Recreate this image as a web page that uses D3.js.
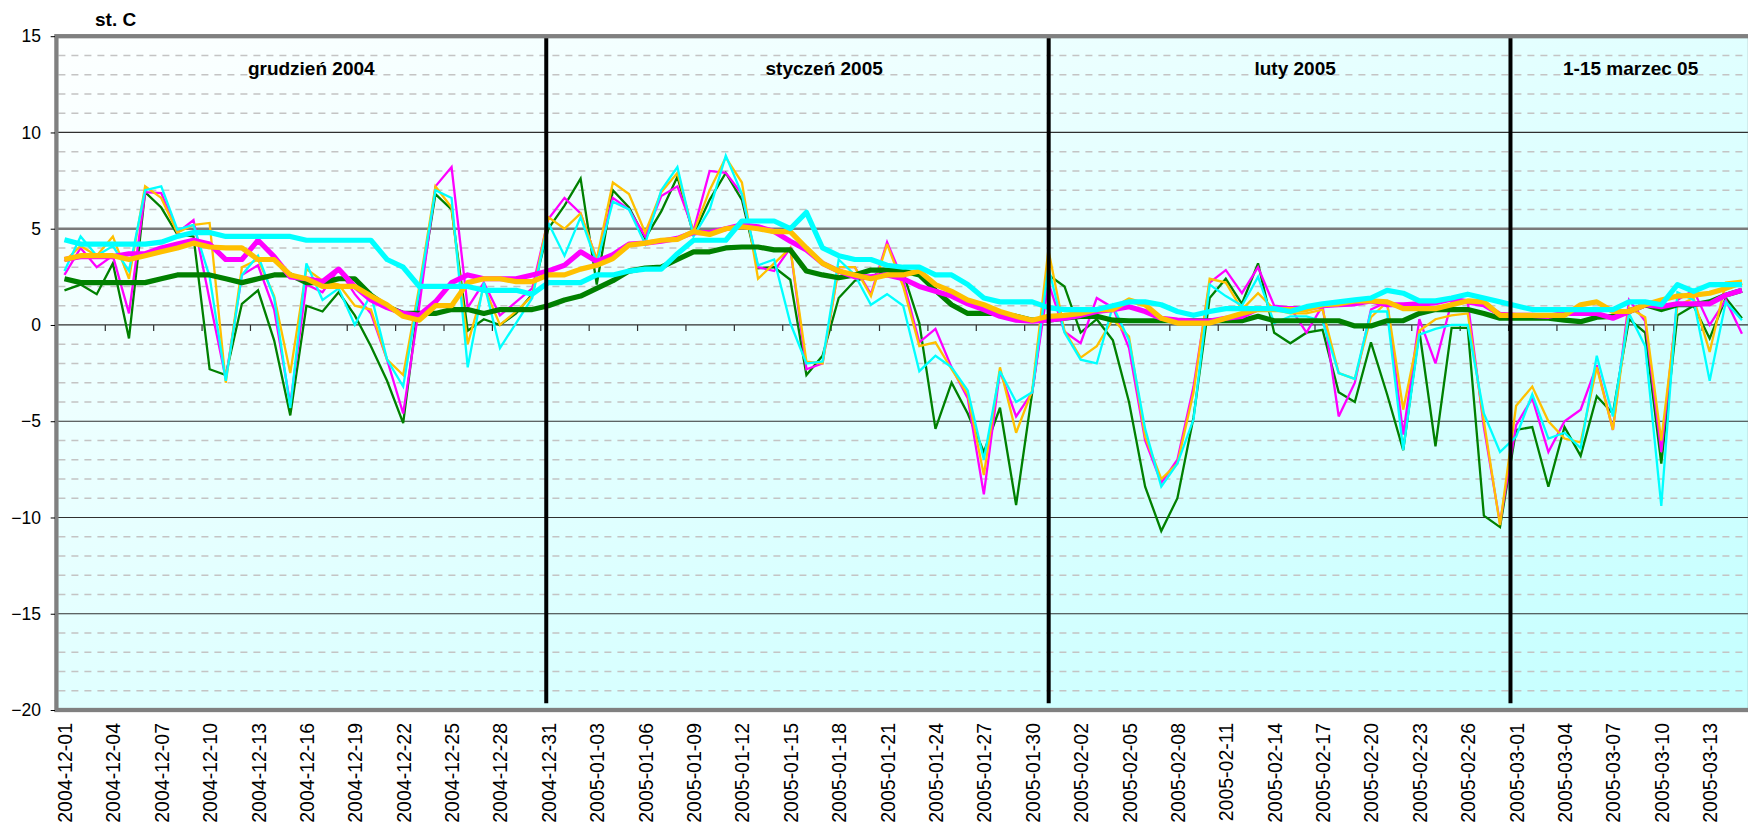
<!DOCTYPE html>
<html><head><meta charset="utf-8">
<script src="https://cdn.jsdelivr.net/npm/d3@7"></script>
<style>
body{margin:0;background:#fff;}
svg{display:block;font-family:"Liberation Sans",Arial,sans-serif;}
</style>
</head><body>
<svg id="chart" width="1748" height="829"></svg>
<script>
// ---------- DATA ----------
const fmt = d3.timeFormat("%Y-%m-%d");
const categories = d3.timeDay.range(new Date(2004,11,1), new Date(2005,2,16)).map(fmt); // 105 days

const dailyGreen = [1.8,2.1,1.6,3.2,-0.7,6.9,6.1,4.7,4.6,-2.3,-2.6,1.1,1.8,-0.8,-4.7,1.0,0.7,1.7,0.5,-1.1,-2.9,-5.1,1.5,6.8,6.0,-0.3,0.3,0.0,0.6,1.6,5.0,6.2,7.6,
 2.1,7.0,6.1,4.5,5.9,7.7,4.7,6.5,7.9,6.5,2.95,3.0,2.35,-2.6,-1.6,1.4,2.3,2.5,2.9,2.7,0.1,-5.4,-3.0,-4.6,-6.6,-4.3,-9.35,-3.5,2.6,
 2.0,-0.4,0.3,-0.8,-4.0,-8.4,-10.7,-9.0,-4.8,1.4,2.4,1.1,3.2,-0.4,-0.95,-0.4,-0.25,-3.5,-4.0,-0.9,-3.6,-6.5,-0.3,-6.3,-0.15,-0.15,-9.9,-10.5,
 -5.45,-5.3,-8.4,-5.3,-6.8,-3.7,-4.6,0.3,-0.4,-7.2,0.5,1.0,-0.7,1.4,0.35];
const dailyMagenta = [2.6,4.0,3.0,3.6,0.6,6.9,6.85,4.8,5.45,1.3,-2.8,2.6,3.1,0.8,-4.1,2.1,1.7,2.9,1.6,0.6,-1.8,-4.6,1.0,7.2,8.2,0.9,2.2,0.5,1.2,1.9,5.5,6.6,5.8,
 3.4,6.6,6.0,4.6,6.7,7.2,4.9,8.0,7.9,6.8,3.0,2.8,4.0,-2.3,-2.0,3.0,3.0,1.6,4.3,2.3,-0.9,-0.2,-2.2,-3.8,-8.8,-2.4,-4.75,-3.5,2.2,
 -0.35,-0.95,1.4,0.9,-1.2,-6.0,-8.2,-7.0,-3.2,2.2,2.85,1.65,3.0,1.0,0.9,-0.4,1.0,-4.75,-3.0,0.8,1.2,-5.7,0.3,-2.0,1.2,1.2,-5.3,-10.3,
 -5.2,-3.8,-6.6,-5.0,-4.4,-2.1,-5.45,1.3,0.2,-6.6,1.3,1.8,0.0,1.3,-0.45];
const dailyOrange = [3.3,4.1,3.6,4.6,2.4,7.2,6.6,4.8,5.2,5.3,-3.0,3.0,3.4,1.5,-2.5,2.9,2.3,2.1,1.0,0.8,-1.8,-2.6,2.0,7.2,6.1,-1.0,2.0,0.0,0.7,1.5,5.6,5.0,5.8,
 3.4,7.4,6.8,4.8,6.9,7.9,4.8,7.0,8.7,7.4,2.4,3.2,4.0,-1.9,-2.0,3.0,3.0,1.5,4.2,2.0,-1.1,-0.9,-2.3,-3.6,-7.8,-2.2,-5.6,-3.4,3.9,
 -0.3,-1.7,-1.1,0.3,-0.6,-5.8,-8.0,-7.2,-3.5,2.4,2.2,0.8,1.65,0.8,0.6,0.6,0.8,-2.5,-2.8,0.4,1.2,-4.4,-0.3,0.3,0.5,0.6,-5.0,-10.4,
 -4.2,-3.2,-5.0,-5.9,-6.1,-2.2,-5.45,0.9,0.4,-6.0,1.0,1.4,-1.4,2.2,2.3];
const dailyCyan = [2.8,4.6,3.6,4.1,2.8,7.0,7.2,4.95,5.2,2.5,-2.9,2.6,3.6,1.4,-4.3,3.2,1.3,1.9,0.0,1.6,-1.8,-3.2,1.8,7.0,6.6,-2.2,2.2,-1.2,0.1,1.4,5.3,3.6,5.6,
 3.2,6.4,6.0,4.2,7.0,8.2,4.6,6.0,8.8,6.8,3.1,3.4,0.1,-2.0,-1.9,3.4,2.6,1.05,1.6,1.0,-2.4,-1.6,-2.2,-3.4,-7.0,-2.4,-4.0,-3.5,3.0,
 -0.4,-1.8,-2.0,1.0,-0.8,-5.4,-8.4,-7.2,-4.9,2.1,1.5,1.0,2.5,0.1,0.45,0.45,0.2,-2.5,-2.8,0.7,0.7,-6.5,-0.5,-0.2,0.0,0.0,-4.6,-6.6,
 -5.8,-3.6,-5.9,-5.6,-6.4,-1.6,-4.75,0.6,-1.1,-9.4,1.7,1.3,-2.9,1.2,0.25];

const meanGreen = [2.4,2.2,2.2,2.2,2.2,2.2,2.4,2.6,2.6,2.6,2.4,2.2,2.4,2.6,2.6,2.2,2.2,2.4,2.4,1.55,0.95,0.6,0.6,0.6,0.8,0.8,0.6,0.8,0.8,0.8,1.0,1.3,1.5,
 1.9,2.3,2.8,2.95,3.0,3.4,3.8,3.8,4.0,4.05,4.05,3.9,3.9,2.8,2.6,2.45,2.6,2.85,2.85,2.8,2.6,1.8,1.05,0.6,0.6,0.6,0.45,0.25,0.25,
 0.35,0.45,0.45,0.25,0.22,0.22,0.22,0.22,0.22,0.22,0.22,0.22,0.45,0.22,0.22,0.22,0.22,0.22,-0.05,-0.05,0.22,0.22,0.6,0.8,0.8,0.8,0.6,0.35,
 0.35,0.35,0.35,0.25,0.17,0.4,0.45,0.7,1.05,0.8,1.05,1.05,1.2,1.55,1.8];
const meanMagenta = [3.4,3.55,3.55,3.55,3.7,3.7,4.0,4.2,4.4,4.2,3.4,3.4,4.4,3.55,2.5,2.4,2.25,2.9,2.0,1.3,0.9,0.6,0.5,1.2,2.2,2.6,2.4,2.4,2.4,2.6,2.8,3.1,3.8,
 3.3,3.65,4.2,4.25,4.35,4.5,4.8,4.8,5.0,5.2,5.1,4.85,4.35,3.9,3.2,2.8,2.5,2.5,2.6,2.4,2.0,1.75,1.5,1.1,0.8,0.45,0.25,0.2,0.25,
 0.35,0.5,0.7,0.8,0.95,0.7,0.35,0.25,0.2,0.2,0.35,0.45,0.85,0.85,0.85,0.85,1.0,1.05,1.1,1.25,1.05,1.05,1.1,1.15,1.35,1.2,1.05,0.55,
 0.5,0.5,0.45,0.6,0.6,0.6,0.35,0.7,1.05,0.95,1.1,1.1,1.1,1.55,1.8];
const meanOrange = [3.4,3.6,3.6,3.6,3.4,3.6,3.8,4.0,4.25,4.05,4.0,4.0,3.4,3.4,2.6,2.4,2.0,2.0,2.0,1.5,1.05,0.45,0.25,1.0,1.0,2.2,2.4,2.4,2.25,2.25,2.6,2.6,2.9,
 3.1,3.45,4.15,4.25,4.4,4.45,4.85,4.7,5.0,5.1,5.0,4.85,4.85,4.0,3.2,2.8,2.6,2.4,2.6,2.6,2.8,2.1,1.75,1.3,1.05,0.7,0.45,0.25,0.45,
 0.5,0.6,0.8,0.8,1.3,1.05,0.35,0.1,0.1,0.1,0.35,0.6,0.8,0.8,0.8,0.8,1.05,1.1,1.25,1.25,1.2,0.85,0.85,0.85,1.05,1.25,1.2,0.5,
 0.5,0.5,0.5,0.5,1.05,1.2,0.7,0.7,1.05,1.3,1.5,1.55,1.65,1.9,2.2];
const meanCyan = [4.43,4.2,4.2,4.2,4.2,4.2,4.3,4.6,4.8,4.8,4.6,4.6,4.6,4.6,4.6,4.4,4.4,4.4,4.4,4.4,3.4,3.0,2.0,2.0,2.0,2.0,1.8,1.8,1.8,1.6,2.2,2.2,2.2,
 2.6,2.6,2.8,2.9,2.9,3.7,4.4,4.4,4.4,5.4,5.4,5.4,5.0,5.85,4.0,3.6,3.4,3.4,3.1,3.0,3.0,2.6,2.6,2.1,1.4,1.2,1.2,1.2,0.9,
 0.8,0.8,0.8,1.0,1.2,1.2,1.05,0.7,0.5,0.7,0.85,0.85,0.85,0.85,0.7,0.95,1.1,1.2,1.3,1.4,1.8,1.65,1.25,1.25,1.4,1.6,1.4,1.2,
 1.0,0.8,0.8,0.8,0.8,0.8,0.8,1.2,1.2,1.05,2.1,1.75,2.1,2.1,2.1];

const yTickValues = [15,10,5,0,-5,-10,-15,-20];
const unitLabel = "st. C";
const monthNames = ["grudzień 2004","styczeń 2005","luty 2005","1-15 marzec 05"];

// ---------- LAYOUT ----------
const L = {left:56.4, right:1750, top:36.2, bottom:710};
const monthLabelAt = [15.3, 47.1, 76.3, 97.1];     // category position of month titles
const monthBreakAt = [29.87, 61.02, 89.65];        // category position of separators

const thinSeries = [
  {v: dailyGreen,   c:"#008000"},
  {v: dailyMagenta, c:"#ff00ff"},
  {v: dailyOrange,  c:"#ffc000"},
  {v: dailyCyan,    c:"#00ffff"}
];
const thickSeries = [
  {v: meanGreen,   c:"#008000"},
  {v: meanMagenta, c:"#ff00ff"},
  {v: meanOrange,  c:"#ffc000"},
  {v: meanCyan,    c:"#00ffff"}
];

// ---------- SCALES ----------
const svg = d3.select("#chart");
const x = d3.scaleLinear().domain([-0.5, categories.length - 0.5]).range([L.left, L.right]);
const y = d3.scaleLinear().domain([-20, 15]).range([L.bottom, L.top]);

const defs = svg.append("defs");
const grad = defs.append("linearGradient").attr("id","bg")
  .attr("x1",0).attr("y1",0).attr("x2",1).attr("y2",1);
grad.append("stop").attr("offset","0%").attr("stop-color","#fdffff");
grad.append("stop").attr("offset","100%").attr("stop-color","#c4ffff");
defs.append("clipPath").attr("id","clip").append("rect")
  .attr("x",L.left).attr("y",L.top).attr("width",L.right-L.left).attr("height",L.bottom-L.top);

// background
svg.append("rect").attr("x",L.left).attr("y",L.top)
  .attr("width",L.right-L.left).attr("height",L.bottom-L.top).attr("fill","url(#bg)");

// minor gridlines
const minor = d3.range(-19, 15).filter(v => v % 5 !== 0);
svg.append("g").selectAll("line").data(minor).join("line")
  .attr("x1",L.left+2).attr("x2",L.right).attr("y1",d=>y(d)).attr("y2",d=>y(d))
  .attr("stroke","#c4c4c4").attr("stroke-width",1.4).attr("stroke-dasharray","7,6");

// major gridlines
const major = [10,5,0,-5,-10,-15];
svg.append("g").selectAll("line").data(major).join("line")
  .attr("x1",L.left).attr("x2",L.right).attr("y1",d=>y(d)).attr("y2",d=>y(d))
  .attr("stroke",d=>d===5?"#7a7a7a":"#303030").attr("stroke-width",d=>d===5?2.4:1.2);

// zero-line category ticks
const zeroAxis = d3.axisBottom(x)
  .tickValues(d3.range(3, categories.length, 3).map(i => i - 0.5))
  .tickSize(6).tickFormat("");
svg.append("g").attr("transform",`translate(0,${y(0)})`).call(zeroAxis)
  .call(g => g.select(".domain").remove())
  .call(g => g.selectAll("line").attr("stroke","#303030").attr("stroke-width",1.2));

// lines
const plot = svg.append("g").attr("clip-path","url(#clip)");
const line = d3.line().x((d,i)=>x(i)).y(d=>y(d)).curve(d3.curveLinear);
thinSeries.forEach(s => {
  plot.append("path").datum(s.v).attr("d",line).attr("fill","none")
    .attr("stroke",s.c).attr("stroke-width",2.3).attr("stroke-linejoin","miter").attr("stroke-miterlimit",3);
});
thickSeries.forEach(s => {
  plot.append("path").datum(s.v).attr("d",line).attr("fill","none")
    .attr("stroke",s.c).attr("stroke-width",5.2).attr("stroke-linejoin","round");
});

// month separators
svg.append("g").selectAll("line").data(monthBreakAt).join("line")
  .attr("x1",d=>x(d)).attr("x2",d=>x(d)).attr("y1",y(15)).attr("y2",y(-19.65))
  .attr("stroke","#000").attr("stroke-width",4);

// plot border
svg.append("rect").attr("x",L.left).attr("y",L.top)
  .attr("width",L.right-L.left).attr("height",L.bottom-L.top)
  .attr("fill","none").attr("stroke","#808080").attr("stroke-width",4.3);

// y axis
const yAxis = d3.axisLeft(y).tickValues(yTickValues).tickSize(4.3).tickPadding(9.7);
svg.append("g").attr("transform",`translate(${L.left-1.4},0)`).call(yAxis)
  .call(g => g.select(".domain").remove())
  .call(g => g.selectAll("line").attr("stroke","#000"))
  .call(g => g.selectAll("text").attr("font-size","17.5px").attr("fill","#000")
    .attr("font-family","'Liberation Sans',Arial,sans-serif"));

// x axis labels
const xAxis = d3.axisBottom(x)
  .tickValues(d3.range(0, categories.length, 3))
  .tickSize(0).tickFormat(i => categories[i]);
svg.append("g").attr("transform","translate(0,723)").call(xAxis)
  .call(g => g.select(".domain").remove())
  .call(g => g.selectAll("text")
    .attr("transform","rotate(-90)").attr("text-anchor","end")
    .attr("x",0).attr("y",0).attr("dy","0.36em")
    .attr("font-size","19.5px").attr("fill","#000")
    .attr("font-family","'Liberation Sans',Arial,sans-serif"));

// unit label
svg.append("text").attr("x",95).attr("y",26).text(unitLabel)
  .attr("font-size","19px").attr("font-weight","bold").attr("fill","#000");

// month titles
svg.append("g").selectAll("text").data(monthNames).join("text")
  .attr("x",(d,i)=>x(monthLabelAt[i])).attr("y",75).attr("text-anchor","middle")
  .attr("font-size","19px").attr("font-weight","bold").attr("fill","#000")
  .text(d=>d);
</script>
</body></html>
